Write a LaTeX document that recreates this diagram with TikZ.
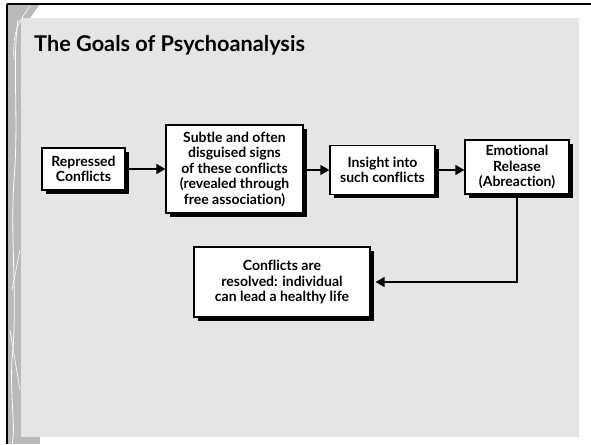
\documentclass[tikz,border=0pt]{standalone}
\usepackage{fontspec}
\setmainfont{Lato}[Ligatures=NoCommon]
\usetikzlibrary{arrows.meta,shadows}
\begin{document}
\begin{tikzpicture}[x=1pt,y=-1pt,
  box/.style={draw=black,line width=1.3pt,fill=white,align=center,inner sep=0pt,
    font=\fontsize{14}{15.5}\selectfont\bfseries,
    drop shadow={shadow xshift=3.5pt,shadow yshift=-3.5pt,fill=black,opacity=1}},
  conn/.style={line width=1.6pt,-{Triangle[length=9pt,width=10pt]}}]
\useasboundingbox (0,0) rectangle (591,444);
\fill[white] (0,0) rectangle (591,444);
% decorative left strip
\fill[gray!55] (8,4) rectangle (21,444);
\fill[gray!55] (21,4) -- (40,4) -- (30,18) -- (21,18) -- cycle;
\fill[gray!55] (21,437) rectangle (40,444);
\draw[white,line width=0.8pt] (18,20) .. controls (12,60) and (19,120) .. (14,180) .. controls (10,240) and (18,300) .. (12,360) .. controls (10,400) and (16,430) .. (12,444);
\draw[white,line width=0.6pt] (30,6) .. controls (20,20) and (12,30) .. (14,60);
\draw[white,line width=0.6pt] (20,250) -- (12,290);
\draw[white,line width=0.6pt] (10,330) -- (20,390);
% frame lines
\draw[black,line width=2pt] (7,4) -- (591,4);
\draw[black,line width=2pt] (7,4) -- (7,444);
% panel
\fill[gray!20] (21,18) rectangle (579,437);
% title
\node[anchor=base west,inner sep=0pt,font=\fontsize{21.7}{26}\selectfont\bfseries] (title) at (34,52) {The Goals of Psychoanalysis};
% boxes
\node[box,minimum width=83pt,minimum height=42pt] (a) at (83.5,169) {Repressed\\Conflicts};
\node[box,minimum width=137pt,minimum height=88pt] (b) at (234.5,169) {Subtle and often\\disguised signs\\of these conflicts\\(revealed through\\free association)};
\node[box,minimum width=105pt,minimum height=49pt] (c) at (382.5,170) {Insight into\\such conflicts};
\node[box,minimum width=104pt,minimum height=54pt] (d) at (517,167) {Emotional\\Release\\(Abreaction)};
\node[box,minimum width=176pt,minimum height=70pt] (e) at (282,282) {Conflicts are\\resolved: individual\\can lead a healthy life};
% connectors
\draw[conn] (a.east) -- (a.east -| b.west);
\draw[conn] (b.east |- c.west) -- (c.west);
\draw[conn] (c.east) -- (c.east -| d.west);
\draw[conn] (d.south) |- ([xshift=5pt]e.east);
\end{tikzpicture}
\end{document}
